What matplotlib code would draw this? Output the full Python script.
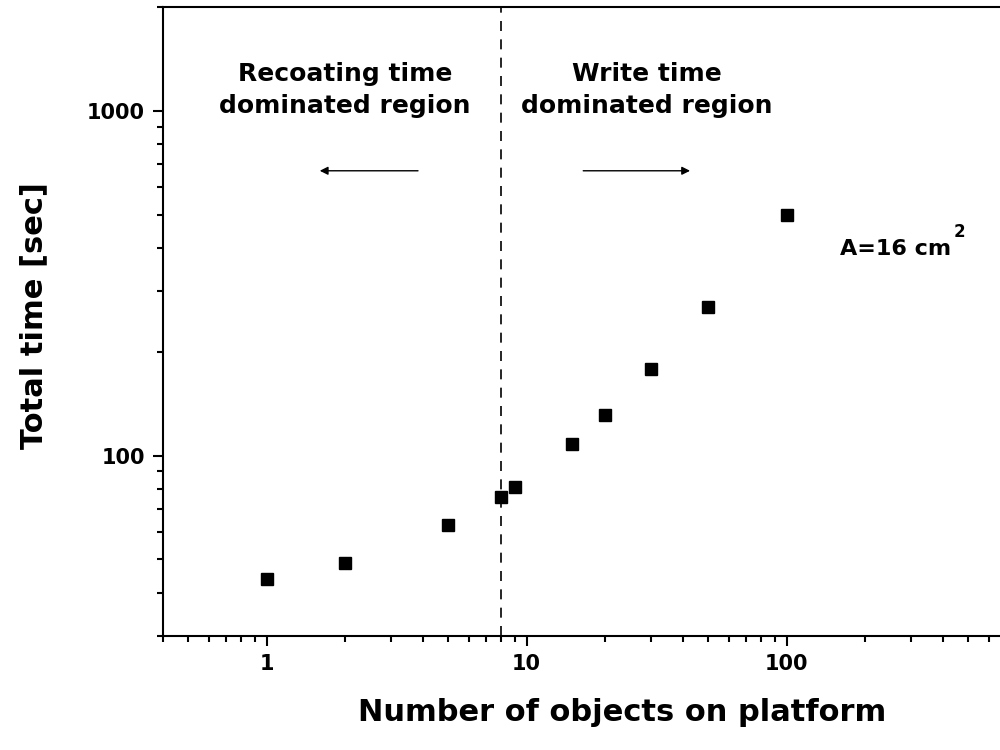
import matplotlib
matplotlib.use('Agg')
from matplotlib import pyplot as plt
from matplotlib import ticker

# 플랫폼 위 물체 개수에 따른 전체 소요 시간
n_objects = [1, 2, 5, 8, 9, 15, 20, 30, 50, 100]
total_time = [44, 49, 63, 76, 81, 108, 131, 178, 270, 500]
boundary_n = 8  # 리코팅 / 쓰기 시간 경계

plt.rcParams['font.family'] = ['DejaVu Sans']
plt.rcParams['font.weight'] = 'bold'

fig = plt.figure(figsize=(10, 7.5), dpi=100)
ax = fig.add_axes([0.1632, 0.152, 0.8835, 0.8387])

ax.plot(n_objects, total_time, linestyle='none', marker='s', markersize=9,
        color='black')
ax.axvline(boundary_n, color='black', linewidth=1.2, linestyle=(0, (6, 5)))

ax.set_xscale('log')
ax.set_yscale('log')
ax.set_xlim(0.4, 1000)
ax.set_ylim(30, 2000)

# 축 눈금: 주눈금 숫자 그대로, 보조눈금 라벨 없음
ax.xaxis.set_major_locator(ticker.FixedLocator([1, 10, 100]))
ax.yaxis.set_major_locator(ticker.FixedLocator([100, 1000]))
ax.xaxis.set_minor_locator(ticker.LogLocator(base=10, subs=range(2, 10)))
ax.yaxis.set_minor_locator(ticker.LogLocator(base=10, subs=range(2, 10)))
ax.xaxis.set_major_formatter(ticker.FuncFormatter(lambda v, p: '%d' % v))
ax.yaxis.set_major_formatter(ticker.FuncFormatter(lambda v, p: '%d' % v))
ax.xaxis.set_minor_formatter(ticker.NullFormatter())
ax.yaxis.set_minor_formatter(ticker.NullFormatter())
ax.tick_params(which='major', direction='out', length=7, width=1.5,
               labelsize=15, pad=6, top=False, right=False)
ax.tick_params(which='minor', direction='out', length=4.5, width=1.5,
               top=False, right=False)
for spine in ax.spines.values():
    spine.set_linewidth(1.5)

ax.set_xlabel('Number of objects on platform', fontsize=22,
              fontweight='bold', va='center', ha='center')
ax.xaxis.set_label_coords(0.519, -0.122)
ax.set_ylabel('Total time [sec]', fontsize=22, fontweight='bold',
              va='center', ha='center')
ax.yaxis.set_label_coords(-0.147, 0.51)

# 영역 설명과 화살표
ax.text(2.0, 1150, 'Recoating time\ndominated region', fontsize=18,
        ha='center', va='center', linespacing=1.4)
ax.text(29.0, 1150, 'Write time\ndominated region', fontsize=18,
        ha='center', va='center', linespacing=1.4)
ax.annotate('', xy=(1.6, 670), xytext=(3.82, 670),
            arrowprops=dict(arrowstyle='-|>', color='black', lw=1,
                            mutation_scale=12, shrinkA=0, shrinkB=0))
ax.annotate('', xy=(42.5, 670), xytext=(16.5, 670),
            arrowprops=dict(arrowstyle='-|>', color='black', lw=1,
                            mutation_scale=12, shrinkA=0, shrinkB=0))

area = ax.text(160, 397, 'A=16 cm', fontsize=16, ha='left', va='center')
ax.annotate('2', xy=(1, 1), xycoords=area, xytext=(2, -1),
            textcoords='offset points', fontsize=12, fontweight='bold',
            ha='left', va='bottom')

plt.savefig('out.png', dpi=100)
